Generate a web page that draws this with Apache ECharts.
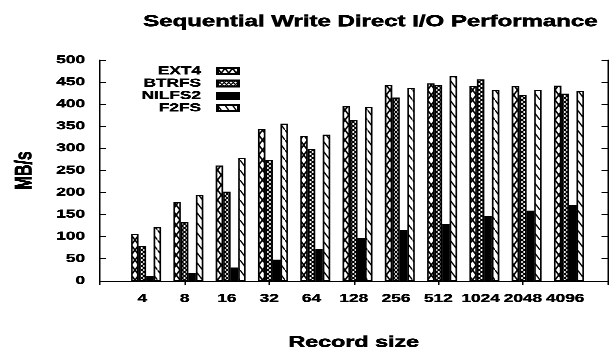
<!DOCTYPE html>
<html><head><meta charset="utf-8">
<script src="https://cdn.jsdelivr.net/npm/echarts@6/dist/echarts.min.js"></script>
<style>
html,body{margin:0;padding:0;background:#fff;overflow:hidden;width:612px;height:356px}
#c{width:408px;height:356px;transform:scaleX(1.5);transform-origin:0 0;}
</style>
</head><body><div id="c"></div>
<script>
const categories = ['4','8','16','32','64','128','256','512','1024','2048','4096'];
const ext4   = [106, 178, 261, 344, 328, 395, 444, 447, 441, 441, 442];
const btrfs  = [79, 133, 202, 273, 298, 364, 415, 443, 456, 421, 424];
const nilfs2 = [10, 17, 30, 48, 72, 96, 115, 128, 146, 159, 172];
const f2fs   = [121, 195, 278, 356, 331, 393, 437, 463, 432, 432, 430];
const seriesNames = ['EXT4','BTRFS','NILFS2','F2FS'];
const yMin = 0, yMax = 500, yStep = 50;

const FONT = "'Liberation Sans', Arial, sans-serif";
const S = 4;
function pat(w, h, lw, draw) {
  const c = document.createElement('canvas');
  c.width = w * S; c.height = h * S;
  const g = c.getContext('2d');
  g.fillStyle = '#fff'; g.fillRect(0, 0, c.width, c.height);
  g.scale(S, S);
  g.strokeStyle = '#000'; g.lineWidth = lw;
  draw(g, w, h);
  return { image: c, repeat: 'repeat', scaleX: 1 / S, scaleY: 1 / S };
}
function line(g, x1, y1, x2, y2) { g.beginPath(); g.moveTo(x1, y1); g.lineTo(x2, y2); g.stroke(); }
const crossBig = pat(5, 10, 1.2, (g, w, h) => {
  line(g, -1, -2, w + 1, h + 2); line(g, w + 1, -2, -1, h + 2);
});
const crossSmall = pat(3, 4, 0.9, (g, w, h) => {
  line(g, -1, -4/3, w + 1, h + 4/3); line(g, w + 1, -4/3, -1, h + 4/3);
});
const diag = pat(5, 10, 1.0, (g, w, h) => {
  line(g, -1, -2, w + 1, h + 2);
});
const fills = [crossBig, crossSmall, '#000', diag];
const values = [ext4, btrfs, nilfs2, f2fs];

const pad = arr => ['-'].concat(arr, ['-']);
const xCats = [''].concat(categories, ['']);

const chart = echarts.init(document.getElementById('c'), null, { renderer: 'canvas', devicePixelRatio: 3 });

const txt = (size, bw) => ({ fontFamily: FONT, fontSize: size, fontWeight: 'bold', color: '#000',
  textBorderColor: '#000', textBorderWidth: bw });

const axisCommon = {
  axisLine: { show: true, lineStyle: { color: '#000', width: 1 } },
  axisTick: { show: true, inside: true, length: 4, lineStyle: { color: '#000' } },
  splitLine: { show: false }
};

const series = [{
  type: 'bar', name: '_pad', data: pad(categories.map(() => '-')), barWidth: 5,
  silent: true, itemStyle: { color: 'transparent' }
}];
seriesNames.forEach((n, i) => {
  series.push({
    type: 'bar', name: n, data: pad(values[i]), barWidth: 5, barGap: '0%',
    itemStyle: { color: fills[i], borderColor: '#000', borderWidth: 1.1 },
    emphasis: { disabled: true }
  });
});

chart.setOption({
  animation: false,
  backgroundColor: '#fff',
  title: [
    { text: 'Sequential Write Direct I/O Performance', left: 95.5, top: 14, padding: 0,
      textStyle: txt(16, 0.5) }
  ],
  legend: {
    data: seriesNames, orient: 'vertical', align: 'right',
    right: 248, top: 65, padding: 0,
    itemWidth: 14, itemHeight: 6, itemGap: 0, icon: 'rect',
    textStyle: Object.assign(txt(11.5, 0.35), { lineHeight: 10.6, padding: [0, 6, 0, 0] })
  },
  grid: { left: 66.7, right: 2.7, top: 60, bottom: 71, containLabel: false },
  xAxis: [
    Object.assign({}, axisCommon, {
      type: 'category', position: 'bottom', data: xCats, boundaryGap: false,
      name: 'Record size', nameLocation: 'middle', nameGap: 54,
      nameTextStyle: txt(15.5, 0.5),
      axisLabel: Object.assign(txt(11.5, 0.35), { margin: 12, interval: 0 })
    }),
    Object.assign({}, axisCommon, {
      type: 'category', position: 'top', data: xCats, boundaryGap: false,
      axisLabel: { show: false }
    })
  ],
  yAxis: [
    Object.assign({}, axisCommon, {
      type: 'value', position: 'left', min: yMin, max: yMax, interval: yStep,
      name: 'MB/s', nameLocation: 'middle', nameGap: 42, nameRotate: 90,
      nameTextStyle: txt(16, 0.5),
      axisLabel: Object.assign(txt(11.5, 0.35), { margin: 10 })
    }),
    Object.assign({}, axisCommon, {
      type: 'value', position: 'right', min: yMin, max: yMax, interval: yStep,
      axisLabel: { show: false }
    })
  ],
  series: series
});
</script>
</body></html>
